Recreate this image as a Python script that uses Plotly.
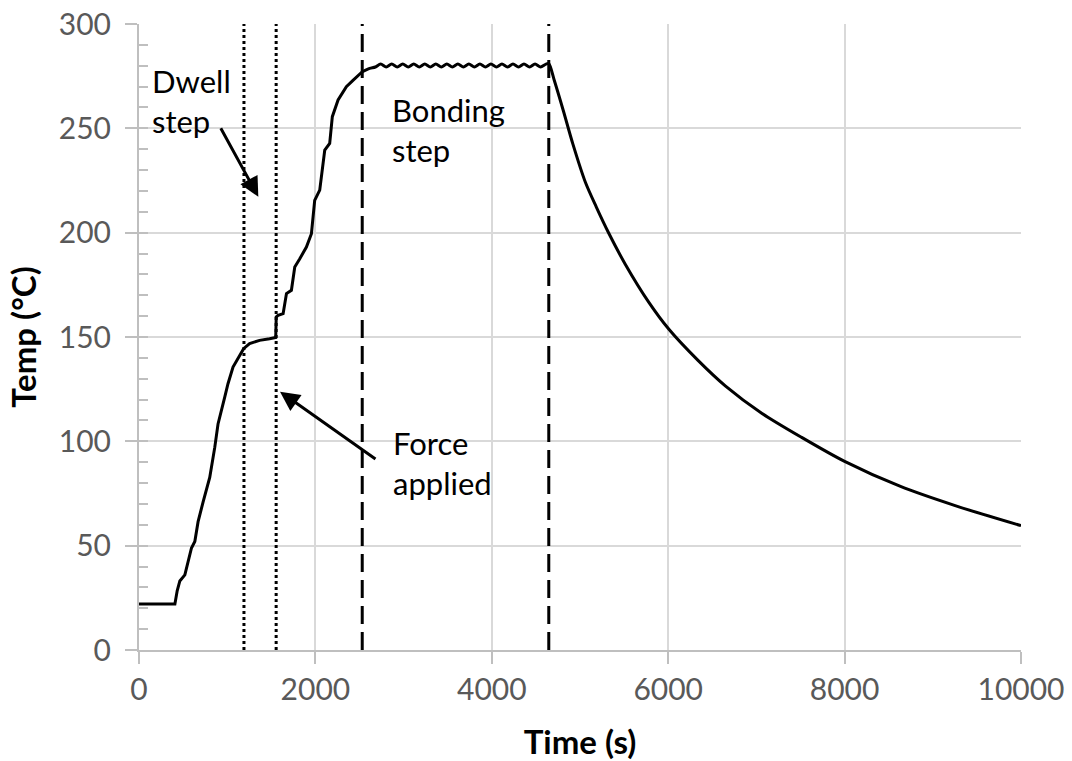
import plotly.graph_objects as go

# ---- data ----
time_s = [0, 407, 433, 463, 520, 557, 595, 633, 670, 727, 802, 859, 896, 972, 1009,
          1066, 1141, 1186, 1254, 1367, 1480, 1550, 1556, 1577, 1634, 1672, 1728, 1766,
          1823, 1898, 1955, 1992, 2049, 2106, 2162, 2192, 2257, 2351, 2426, 2528, 2615,
          2680, 2740, 2803, 2865, 2928, 2990, 3053, 3115, 3178, 3240, 3303, 3365, 3428,
          3490, 3553, 3615, 3678, 3740, 3803, 3865, 3928, 3990, 4053, 4115, 4178, 4240,
          4303, 4365, 4428, 4490, 4553, 4615, 4646,
          4709, 4812, 4917, 5060, 5184, 5328, 5513, 5781, 6008, 6338, 6647, 7060, 7513,
          8000, 8627, 9245, 10000]
temp_c = [22, 22, 28.4, 33.1, 36, 42.6, 48.9, 52, 61.5, 71, 82.7, 97.1, 108.3, 121.2, 127.6,
          135.6, 141.2, 144.4, 146.8, 148.4, 149.2, 149.8, 159.6, 160.4, 161.2, 170.8, 172.4, 183.5,
          187.5, 193.1, 199.5, 215.5, 220.4, 239.6, 242.8, 255.6, 263.6, 270, 273, 277, 278.7,
          279.4, 280.8, 279.4, 280.8, 279.4, 280.8, 279.4, 280.8, 279.4, 280.8, 279.4, 280.8, 279.4,
          280.8, 279.4, 280.8, 279.4, 280.8, 279.4, 280.8, 279.4, 280.8, 279.4, 280.8, 279.4, 280.8,
          279.4, 280.8, 279.4, 280.8, 279.4, 280.8, 281.0,
          272.9, 258.3, 242.8, 224.3, 212.4, 199.6, 184.9, 166.6, 153.7, 138.8, 126.6, 113.5, 101.9,
          90.4, 78.5, 69.3, 59.6]

dwell_lines = [1190, 1555]      # dotted markers
bonding_lines = [2531, 4646]    # dashed markers

x_ticks = [0, 2000, 4000, 6000, 8000, 10000]
y_ticks = [0, 50, 100, 150, 200, 250, 300]

FONT = "Lato"
AX = "#bfbfbf"
GRID = "#d9d9d9"

peak = time_s.index(2528)
fig = go.Figure()
fig.add_trace(go.Scatter(x=time_s[:peak + 1], y=temp_c[:peak + 1], mode="lines",
                         line=dict(color="black", width=3), showlegend=False,
                         hoverinfo="skip"))
fig.add_trace(go.Scatter(x=time_s[peak:], y=temp_c[peak:], mode="lines",
                         line=dict(color="black", width=3, shape="spline", smoothing=0.8),
                         showlegend=False, hoverinfo="skip"))

# overlay axis for inside minor ticks
fig.add_trace(go.Scatter(x=[None], y=[None], yaxis="y2", showlegend=False, hoverinfo="skip"))

for xv in dwell_lines:
    fig.add_shape(type="line", xref="x", yref="y", x0=xv, x1=xv, y0=0, y1=300,
                  line=dict(color="black", width=3, dash="3px,3px"), layer="above")
for xv in bonding_lines:
    fig.add_shape(type="line", xref="x", yref="y", x0=xv, x1=xv, y0=0, y1=300,
                  line=dict(color="black", width=3, dash="18px,8px"), layer="above")

txt = dict(family=FONT, size=31, color="black")
fig.add_annotation(x=125, y=263, xref="x", yref="y", text="Dwell<br>step",
                   showarrow=False, xanchor="left", yanchor="middle", align="left", font=txt)
fig.add_annotation(x=2850, y=249, xref="x", yref="y", text="Bonding<br>step",
                   showarrow=False, xanchor="left", yanchor="middle", align="left", font=txt)
fig.add_annotation(x=2862, y=89.5, xref="x", yref="y", text="Force<br>applied",
                   showarrow=False, xanchor="left", yanchor="middle", align="left", font=txt)
fig.add_annotation(x=1353, y=217.2, ax=918, ay=250.8, xref="x", yref="y", axref="x", ayref="y",
                   text="", showarrow=True, arrowhead=2, arrowsize=1.3, arrowwidth=3,
                   arrowcolor="black")
fig.add_annotation(x=1599, y=123.8, ax=2698, ay=91, xref="x", yref="y", axref="x", ayref="y",
                   text="", showarrow=True, arrowhead=2, arrowsize=1.3, arrowwidth=3,
                   arrowcolor="black")

fig.update_layout(
    width=1072, height=761,
    margin=dict(l=139, r=51, t=24, b=111, autoexpand=False),
    paper_bgcolor="white", plot_bgcolor="white",
    font=dict(family=FONT),
    xaxis=dict(range=[0, 10000], tickvals=x_ticks, ticktext=[str(v) for v in x_ticks],
               showgrid=True, gridcolor=GRID, gridwidth=2,
               showline=True, linecolor=AX, linewidth=2,
               ticks="outside", ticklen=12, tickwidth=2, tickcolor=AX,
               tickfont=dict(family=FONT, size=30, color="#595959"),
               zeroline=False,
               title=dict(text="<b>Time (s)</b>", standoff=28,
                          font=dict(family=FONT, size=33, color="black"))),
    yaxis=dict(range=[0, 300], tickvals=y_ticks, ticktext=[str(v) for v in y_ticks],
               showgrid=True, gridcolor=GRID, gridwidth=2,
               showline=True, linecolor=AX, linewidth=2,
               ticks="outside", ticklen=12, tickwidth=2, tickcolor=AX,
               ticklabelstandoff=8,
               tickfont=dict(family=FONT, size=30, color="#595959"),
               zeroline=False,
               title=dict(text="<b>Temp (°C)</b>", standoff=12,
                          font=dict(family=FONT, size=33, color="black"))),
    yaxis2=dict(range=[0, 300], overlaying="y", side="left", anchor="x",
                dtick=10, ticks="inside", ticklen=9, tickwidth=2, tickcolor=AX,
                showticklabels=False, showgrid=False, zeroline=False, showline=False),
)

fig.write_html("out.html")
